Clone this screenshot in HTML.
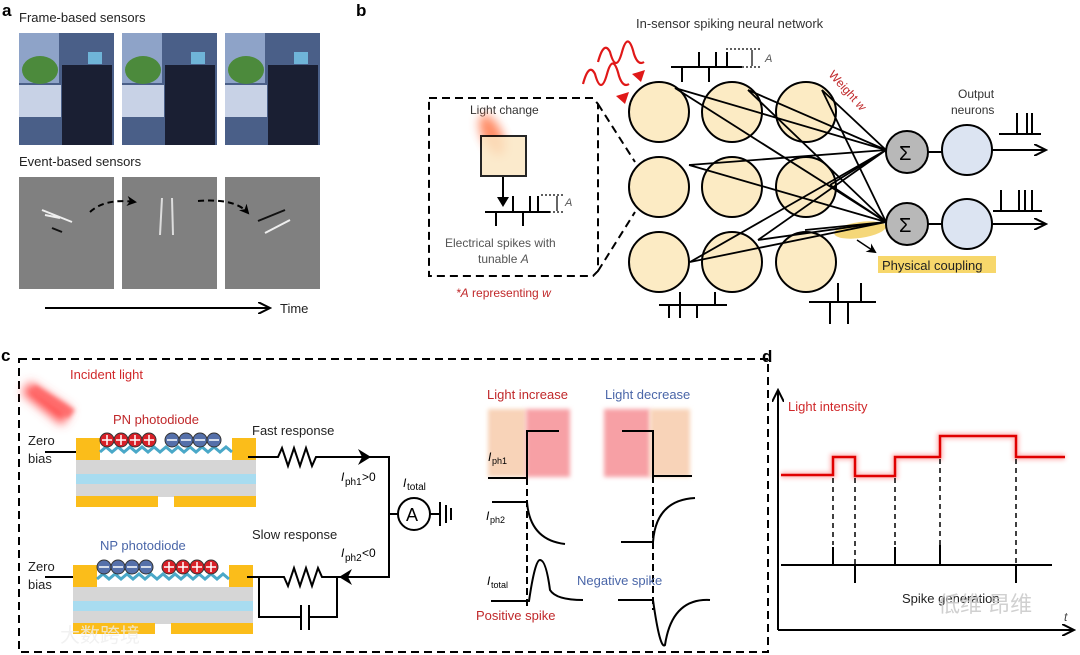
<!DOCTYPE html>
<html><head><meta charset="utf-8"><style>
body{margin:0;background:#fff;}
svg{display:block;font-family:"Liberation Sans","Noto Sans CJK SC",sans-serif;}
</style></head><body>
<svg width="1080" height="655" viewBox="0 0 1080 655" xmlns="http://www.w3.org/2000/svg">
<defs>
<filter id="bl" x="-50%" y="-50%" width="200%" height="200%"><feGaussianBlur stdDeviation="5"/></filter>
<filter id="bl2" x="-20%" y="-20%" width="140%" height="140%"><feGaussianBlur stdDeviation="2"/></filter>
<marker id="ah" markerWidth="10" markerHeight="10" refX="8" refY="5" orient="auto" markerUnits="userSpaceOnUse"><path d="M0,0 L10,5 L0,10 L3,5z" fill="#000"/></marker>
<marker id="ah2" markerWidth="14" markerHeight="12" refX="12" refY="6" orient="auto" markerUnits="userSpaceOnUse"><path d="M0,0 L12,6 L0,12" fill="none" stroke="#000" stroke-width="2"/></marker>
</defs>

<!-- Panel a -->
<text x="2" y="16" font-size="17" font-weight="bold">a</text>
<text x="19" y="22" font-size="13" fill="#222">Frame-based sensors</text>
<g>
<rect x="19" y="33" width="95" height="112" fill="#4a5f88"/>
<rect x="122" y="33" width="95" height="112" fill="#4a5f88"/>
<rect x="225" y="33" width="95" height="112" fill="#4a5f88"/>
<g fill="#8ea3c8"><rect x="19" y="33" width="40" height="50"/><rect x="122" y="33" width="40" height="50"/><rect x="225" y="33" width="40" height="50"/></g>
<g fill="#c8d2e6"><rect x="19" y="85" width="42" height="32"/><rect x="122" y="85" width="42" height="32"/><rect x="225" y="85" width="42" height="32"/></g>
<g fill="#4c8a3c"><ellipse cx="40" cy="70" rx="18" ry="14"/><ellipse cx="143" cy="70" rx="18" ry="14"/><ellipse cx="246" cy="70" rx="18" ry="14"/></g>
<g fill="#1a1f33"><rect x="62" y="65" width="50" height="80"/><rect x="165" y="65" width="50" height="80"/><rect x="268" y="65" width="50" height="80"/></g>
<g fill="#6fb4d8"><rect x="88" y="52" width="14" height="12"/><rect x="191" y="52" width="14" height="12"/><rect x="294" y="52" width="14" height="12"/></g>
</g>
<text x="19" y="166" font-size="13" fill="#222">Event-based sensors</text>
<rect x="19" y="177" width="95" height="112" fill="#808080"/>
<rect x="122" y="177" width="95" height="112" fill="#808080"/>
<rect x="225" y="177" width="95" height="112" fill="#808080"/>
<path d="M42,210 L72,222 M45,215 L60,218" stroke="#eee" stroke-width="2"/>
<path d="M52,228 L62,232" stroke="#111" stroke-width="2"/>
<path d="M162,198 L160,235 M172,198 L173,235" stroke="#ddd" stroke-width="2"/>
<path d="M258,221 L285,210" stroke="#111" stroke-width="2"/>
<path d="M265,233 L290,220" stroke="#eee" stroke-width="2"/>
<path d="M90,212 Q105,198 135,202" fill="none" stroke="#000" stroke-width="2" stroke-dasharray="6,4" marker-end="url(#ah)"/>
<path d="M198,201 Q235,198 248,213" fill="none" stroke="#000" stroke-width="2" stroke-dasharray="6,4" marker-end="url(#ah)"/>
<line x1="45" y1="308" x2="270" y2="308" stroke="#000" stroke-width="2" marker-end="url(#ah2)"/>
<text x="280" y="313" font-size="13" fill="#222">Time</text>

<!-- Panel b -->
<text x="356" y="16" font-size="17" font-weight="bold">b</text>
<text x="636" y="28" font-size="13" fill="#333">In-sensor spiking neural network</text>
<path d="M429,98 L593,98 L598,104 L598,271 L593,276 L429,276 Z" fill="none" stroke="#000" stroke-width="2" stroke-dasharray="8,5"/>
<line x1="598" y1="104" x2="635" y2="162" stroke="#000" stroke-width="2" stroke-dasharray="8,5"/>
<line x1="598" y1="271" x2="635" y2="212" stroke="#000" stroke-width="2" stroke-dasharray="8,5"/>
<text x="470" y="114" font-size="12" fill="#333">Light change</text>
<ellipse cx="492" cy="135" rx="10" ry="22" fill="#ff7040" opacity="0.8" filter="url(#bl)" transform="rotate(-25 492 135)"/>
<rect x="481" y="136" width="45" height="40" fill="#fbe7c4" opacity="0.85" stroke="#000" stroke-width="2"/>
<line x1="503" y1="177" x2="503" y2="200" stroke="#000" stroke-width="2"/>
<path d="M497,197 L509,197 L503,207z" fill="#000"/>
<path d="M485,212 L550,212 M513,212 L513,196 M530,212 L530,196 M538,212 L538,196 M496,212 L496,226 M523,212 L523,226" stroke="#000" stroke-width="2" fill="none"/>
<path d="M541,195 L565,195 M541,212 L565,212" stroke="#000" stroke-width="1.2" stroke-dasharray="2,2"/>
<path d="M557,196 L557,211" stroke="#000" stroke-width="1.2"/>
<text x="565" y="206" font-size="11" font-style="italic" fill="#555">A</text>
<text x="445" y="247" font-size="12" fill="#555">Electrical spikes with</text>
<text x="478" y="263" font-size="12" fill="#555">tunable <tspan font-style="italic">A</tspan></text>
<text x="456" y="297" font-size="12" fill="#c0282a"><tspan font-style="italic">*A</tspan> representing <tspan font-style="italic">w</tspan></text>

<!-- red waves -->
<path d="M598,62 q6,-22 12,-10 q6,22 12,0 q6,-22 12,2 q4,12 10,8" fill="none" stroke="#e01818" stroke-width="2.2"/>
<path d="M583,84 q6,-22 12,-10 q6,22 12,0 q6,-22 12,2 q4,12 10,8" fill="none" stroke="#e01818" stroke-width="2.2"/>
<path d="M645,70 l-4,12 -9,-8z M629,92 l-4,12 -9,-8z" fill="#e01818"/>
<!-- top spikes -->
<path d="M671,67 L742,67 M699,67 L699,52 M716,67 L716,52 M727,67 L727,52 M682,67 L682,82 M709,67 L709,82" stroke="#000" stroke-width="2"/>
<path d="M726,49 L760,49 M726,67 L760,67" stroke="#000" stroke-width="1.2" stroke-dasharray="2,2"/>
<line x1="752" y1="50" x2="752" y2="66" stroke="#000" stroke-width="1.2"/>
<text x="765" y="62" font-size="11" font-style="italic" fill="#555">A</text>
<text x="828" y="75" font-size="12" fill="#c0282a" transform="rotate(48 828 75)">Weight <tspan font-style="italic">w</tspan></text>

<g fill="#fcebc4" stroke="#000" stroke-width="2">
<circle cx="659" cy="112" r="30"/><circle cx="732" cy="112" r="30"/><circle cx="806" cy="112" r="30"/>
<circle cx="659" cy="187" r="30"/><circle cx="732" cy="187" r="30"/><circle cx="806" cy="187" r="30"/>
<circle cx="659" cy="262" r="30"/><circle cx="732" cy="262" r="30"/><circle cx="806" cy="262" r="30"/>
</g>
<ellipse cx="860" cy="230" rx="26" ry="8" fill="#f2c94c" opacity="0.75" transform="rotate(-8 860 230)"/>
<!-- connections -->
<g stroke="#000" stroke-width="1.8">
<line x1="675" y1="88" x2="886" y2="150"/><line x1="675" y1="88" x2="886" y2="222"/>
<line x1="748" y1="90" x2="886" y2="150"/><line x1="748" y1="90" x2="886" y2="222"/>
<line x1="822" y1="90" x2="886" y2="150"/><line x1="822" y1="90" x2="886" y2="222"/>
<line x1="689" y1="165" x2="886" y2="150"/><line x1="689" y1="165" x2="886" y2="222"/>
<line x1="690" y1="262" x2="886" y2="150"/>
<line x1="690" y1="262" x2="886" y2="222"/>
<line x1="758" y1="240" x2="886" y2="150"/><line x1="758" y1="240" x2="886" y2="222"/>
<line x1="805" y1="230" x2="886" y2="222"/>
<line x1="830" y1="185" x2="886" y2="150"/><line x1="830" y1="185" x2="886" y2="222"/>
</g>
<line x1="857" y1="240" x2="875" y2="252" stroke="#000" stroke-width="1.5" marker-end="url(#ah)"/>
<rect x="878" y="256" width="118" height="17" fill="#f7d76b"/>
<text x="882" y="270" font-size="13" fill="#222">Physical coupling</text>
<circle cx="907" cy="152" r="21" fill="#b8b8b8" stroke="#000" stroke-width="2"/>
<circle cx="907" cy="224" r="21" fill="#b8b8b8" stroke="#000" stroke-width="2"/>
<text x="899" y="160" font-size="20">Σ</text><text x="899" y="232" font-size="20">Σ</text>
<line x1="928" y1="152" x2="942" y2="152" stroke="#000" stroke-width="2"/>
<line x1="928" y1="224" x2="942" y2="224" stroke="#000" stroke-width="2"/>
<circle cx="967" cy="150" r="25" fill="#dce4f2" stroke="#000" stroke-width="2"/>
<circle cx="967" cy="224" r="25" fill="#dce4f2" stroke="#000" stroke-width="2"/>
<line x1="992" y1="150" x2="1046" y2="150" stroke="#000" stroke-width="2" marker-end="url(#ah2)"/>
<line x1="992" y1="224" x2="1046" y2="224" stroke="#000" stroke-width="2" marker-end="url(#ah2)"/>
<text x="958" y="98" font-size="12" fill="#333">Output</text>
<text x="951" y="114" font-size="12" fill="#333">neurons</text>
<path d="M999,134 L1041,134 M1017,134 L1017,113 M1027,134 L1027,113 M1032,134 L1032,113" stroke="#000" stroke-width="2"/>
<path d="M993,211 L1042,211 M1001,211 L1001,190 M1019,211 L1019,190 M1025,211 L1025,190 M1032,211 L1032,190" stroke="#000" stroke-width="2"/>
<path d="M659,305 L727,305 M680,305 L680,292 M715,305 L715,292 M669,305 L669,318 M680,305 L680,318 M697,305 L697,318" stroke="#000" stroke-width="2"/>
<path d="M809,302 L876,302 M838,302 L838,283 M861,302 L861,283 M830,302 L830,324 M848,302 L848,324" stroke="#000" stroke-width="2"/>

<!-- Panel c -->
<text x="1" y="361" font-size="17" font-weight="bold">c</text>
<rect x="19" y="359" width="749" height="293" fill="none" stroke="#000" stroke-width="2" stroke-dasharray="8,5"/>
<path d="M30,382 L72,410 L62,425 L22,393z" fill="#ff5050" filter="url(#bl)"/>
<path d="M35,385 L75,410 L68,418 L32,392z" fill="#ff6a6a" opacity="0.9" filter="url(#bl2)"/>
<text x="70" y="379" font-size="13" fill="#d0282a">Incident light</text>
<text x="113" y="424" font-size="13" fill="#c0282a">PN photodiode</text>
<text x="28" y="445" font-size="13" fill="#222">Zero</text>
<text x="28" y="463" font-size="13" fill="#222">bias</text>
<line x1="45" y1="452" x2="76" y2="452" stroke="#000" stroke-width="2"/>
<g>
<rect x="76" y="460" width="180" height="14" fill="#d6d6d6"/>
<rect x="76" y="474" width="180" height="10" fill="#a8dcf0"/>
<rect x="76" y="484" width="180" height="13" fill="#d6d6d6"/>
<rect x="76" y="496" width="82" height="11" fill="#fbbd1a"/><rect x="174" y="496" width="82" height="11" fill="#fbbd1a"/>
<rect x="76" y="438" width="24" height="22" fill="#fbbd1a"/><rect x="232" y="438" width="24" height="22" fill="#fbbd1a"/>
<path d="M100,452 l6,-5 6,5 6,-5 6,5 6,-5 6,5 6,-5 6,5 6,-5 6,5 6,-5 6,5 6,-5 6,5 6,-5 6,5 6,-5 6,5 6,-5 6,5 6,-5 6,5" fill="none" stroke="#4aa8c8" stroke-width="3"/>
<g fill="#d82028" stroke="#333" stroke-width="1"><circle cx="107" cy="440" r="7"/><circle cx="121" cy="440" r="7"/><circle cx="135" cy="440" r="7"/><circle cx="149" cy="440" r="7"/></g>
<g fill="#5570aa" stroke="#333" stroke-width="1"><circle cx="172" cy="440" r="7"/><circle cx="186" cy="440" r="7"/><circle cx="200" cy="440" r="7"/><circle cx="214" cy="440" r="7"/></g>
<g stroke="#fff" stroke-width="1.5"><path d="M102,440h10M107,435v10M116,440h10M121,435v10M130,440h10M135,435v10M144,440h10M149,435v10M167,440h10M181,440h10M195,440h10M209,440h10"/></g>
</g>
<text x="100" y="550" font-size="13" fill="#4a66a8">NP photodiode</text>
<text x="28" y="571" font-size="13" fill="#222">Zero</text>
<text x="28" y="589" font-size="13" fill="#222">bias</text>
<line x1="45" y1="577" x2="73" y2="577" stroke="#000" stroke-width="2"/>
<g transform="translate(-3,127)">
<rect x="76" y="460" width="180" height="14" fill="#d6d6d6"/>
<rect x="76" y="474" width="180" height="10" fill="#a8dcf0"/>
<rect x="76" y="484" width="180" height="13" fill="#d6d6d6"/>
<rect x="76" y="496" width="82" height="11" fill="#fbbd1a"/><rect x="174" y="496" width="82" height="11" fill="#fbbd1a"/>
<rect x="76" y="438" width="24" height="22" fill="#fbbd1a"/><rect x="232" y="438" width="24" height="22" fill="#fbbd1a"/>
<path d="M100,452 l6,-5 6,5 6,-5 6,5 6,-5 6,5 6,-5 6,5 6,-5 6,5 6,-5 6,5 6,-5 6,5 6,-5 6,5 6,-5 6,5 6,-5 6,5 6,-5 6,5" fill="none" stroke="#4aa8c8" stroke-width="3"/>
<g fill="#5570aa" stroke="#333" stroke-width="1"><circle cx="107" cy="440" r="7"/><circle cx="121" cy="440" r="7"/><circle cx="135" cy="440" r="7"/><circle cx="149" cy="440" r="7"/></g>
<g fill="#d82028" stroke="#333" stroke-width="1"><circle cx="172" cy="440" r="7"/><circle cx="186" cy="440" r="7"/><circle cx="200" cy="440" r="7"/><circle cx="214" cy="440" r="7"/></g>
<g stroke="#fff" stroke-width="1.5"><path d="M102,440h10M116,440h10M130,440h10M144,440h10M167,440h10M172,435v10M181,440h10M186,435v10M195,440h10M200,435v10M209,440h10M214,435v10"/></g>
</g>
<g stroke="#000" stroke-width="2" fill="none">
<path d="M248,457 L278,457 l4,-9 6,18 6,-18 6,18 6,-18 6,18 4,-9 L389,457 L389,577 L322,577 l-4,-9 -6,18 -6,-18 -6,18 -6,-18 -6,18 -4,-9 L247,577"/>
<path d="M259,577 L259,617 L301,617 M309,617 L337,617 L337,577"/>
<path d="M301,605 L301,630 M309,605 L309,630"/>
<path d="M389,514 L398,514 M430,514 L440,514 M440,502 L440,526 M446,505 L446,523 M451,508 L451,520"/>
</g>
<path d="M371,457 L358,449 L362,457 L358,465z" fill="#000"/>
<path d="M339,577 L352,569 L348,577 L352,585z" fill="#000"/>
<circle cx="414" cy="514" r="16" fill="#fff" stroke="#000" stroke-width="2"/>
<text x="406" y="521" font-size="18">A</text>
<text x="252" y="435" font-size="13" fill="#222">Fast response</text>
<text x="252" y="539" font-size="13" fill="#222">Slow response</text>
<text x="341" y="481" font-size="12" font-style="italic">I</text><text x="345" y="485" font-size="10">ph1</text><text x="362" y="481" font-size="12">&gt;0</text>
<text x="341" y="557" font-size="12" font-style="italic">I</text><text x="345" y="561" font-size="10">ph2</text><text x="362" y="557" font-size="12">&lt;0</text>
<text x="403" y="487" font-size="12" font-style="italic">I</text><text x="407" y="490" font-size="10">total</text>

<text x="487" y="399" font-size="13" fill="#c0282a">Light increase</text>
<text x="605" y="399" font-size="13" fill="#4a66a8">Light decrease</text>
<rect x="488" y="409" width="38" height="68" fill="#f8d3b8" filter="url(#bl2)"/>
<rect x="526" y="409" width="44" height="68" fill="#f7a0a5" filter="url(#bl2)"/>
<rect x="604" y="409" width="46" height="68" fill="#f7a0a5" filter="url(#bl2)"/>
<rect x="650" y="409" width="40" height="68" fill="#f8d3b8" filter="url(#bl2)"/>
<g stroke="#000" stroke-width="2" fill="none">
<path d="M488,478 L527,478 L527,431 L559,431"/>
<path d="M622,431 L653,431 L653,476 L692,476"/>
<path d="M492,502 L527,502 Q530,540 565,544"/>
<path d="M621,542 L653,542 Q656,500 695,498"/>
<path d="M491,601 L529,601 Q535,560 540,560 Q546,560 550,590 Q556,600 583,600"/>
<path d="M618,600 L653,600 Q660,650 665,645 Q672,598 710,600"/>
<path d="M527,478 L527,607 M653,476 L653,610" stroke-dasharray="7,4"/>
</g>
<text x="488" y="461" font-size="12" font-style="italic">I</text><text x="492" y="464" font-size="9">ph1</text>
<text x="486" y="520" font-size="12" font-style="italic">I</text><text x="490" y="523" font-size="9">ph2</text>
<text x="487" y="585" font-size="12" font-style="italic">I</text><text x="491" y="588" font-size="9">total</text>
<text x="577" y="585" font-size="13" fill="#4a66a8">Negative spike</text>
<text x="476" y="620" font-size="13" fill="#c0282a">Positive spike</text>

<!-- Panel d -->
<text x="762" y="362" font-size="17" font-weight="bold">d</text>
<line x1="778" y1="630" x2="778" y2="390" stroke="#000" stroke-width="2" marker-end="url(#ah2)"/>
<line x1="778" y1="630" x2="1074" y2="630" stroke="#000" stroke-width="2" marker-end="url(#ah2)"/>
<text x="1064" y="621" font-size="12" font-style="italic" fill="#444">t</text>
<text x="788" y="411" font-size="13" fill="#d0282a">Light intensity</text>
<path d="M781,475 L833,475 L833,457 L855,457 L855,476 L895,476 L895,457 L940,457 L940,436 L1016,436 L1016,457 L1065,457" fill="none" stroke="#ff3030" stroke-width="6" opacity="0.35" filter="url(#bl2)"/>
<path d="M781,475 L833,475 L833,457 L855,457 L855,476 L895,476 L895,457 L940,457 L940,436 L1016,436 L1016,457 L1065,457" fill="none" stroke="#e00000" stroke-width="2.5"/>
<g stroke="#000" stroke-width="1.5" stroke-dasharray="5,4"><path d="M833,478 V545 M855,478 V565 M895,478 V545 M940,459 V545 M1016,459 V565"/></g>
<path d="M781,565 L1052,565 M833,565 V547 M895,565 V547 M940,565 V545 M855,565 V583 M1016,565 V583" stroke="#000" stroke-width="2"/>
<text x="902" y="603" font-size="13" fill="#222">Spike generation</text>
<text x="938" y="612" font-size="22" fill="#ccc" opacity="0.9">低维 昂维</text>
<text x="60" y="642" font-size="20" fill="#eee" opacity="0.8">大数跨境</text>
</svg>
</body></html>
